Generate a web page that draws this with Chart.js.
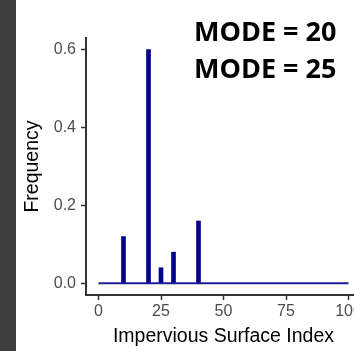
<!DOCTYPE html>
<html>
<head>
<meta charset="utf-8">
<script src="https://cdn.jsdelivr.net/npm/chart.js@4"></script>
<style>
  html, body { margin: 0; padding: 0; background: #fff; overflow: hidden; }
  #wrap { position: absolute; left: 0; top: 0; width: 361px; height: 351px; }
  #strip { position: absolute; left: 0; top: 0; width: 16px; height: 351px; background: #3f3f3f; }
  .mode { position: absolute; left: 194px; font-family: "Open Sans", sans-serif; font-weight: 700;
          font-size: 27px; line-height: 36px; color: #000; white-space: nowrap; }
</style>
</head>
<body>
<div id="wrap"><canvas id="chart" width="361" height="351"></canvas></div>
<div id="strip"></div>
<div class="mode" style="top:13px" id="mode1"></div>
<div class="mode" style="top:50px" id="mode2"></div>
<script>
  // values
  var imperviousIndex = [10, 20, 25, 30, 40];
  var frequency = [0.12, 0.6, 0.04, 0.08, 0.16];
  var baselineX = [0, 100];
  var baselineY = [0, 0];
  var xTicks = [0, 25, 50, 75, 100];
  var yTicks = [0, 0.2, 0.4, 0.6];
  var modeLabels = ["MODE = 20", "MODE = 25"];

  document.getElementById("mode1").textContent = modeLabels[0];
  document.getElementById("mode2").textContent = modeLabels[1];

  var axisColor = "#333";
  var tickFont = { family: "Liberation Sans, Arial, sans-serif", size: 16 };
  var titleFont = { family: "Liberation Sans, Arial, sans-serif", size: 19.5 };

  new Chart(document.getElementById("chart").getContext("2d"), {
    data: {
      datasets: [{
        type: "line",
        data: baselineX.map(function (x, i) { return { x: x, y: baselineY[i] }; }),
        borderColor: "#1c1c96",
        borderWidth: 2,
        pointRadius: 0,
        tension: 0
      }, {
        type: "bar",
        data: imperviousIndex.map(function (x, i) { return { x: x, y: frequency[i] }; }),
        backgroundColor: "#00008B",
        borderWidth: 0,
        barThickness: 4
      }]
    },
    options: {
      responsive: false,
      animation: false,
      layout: { padding: { top: 38, right: 0, bottom: 0, left: 0 } },
      plugins: { legend: { display: false }, tooltip: { enabled: false } },
      scales: {
        x: {
          type: "linear",
          offset: false,
          min: -5,
          max: 105,
          afterBuildTicks: function (s) { s.ticks = xTicks.map(function (v) { return { value: v }; }); },
          afterFit: function (s) { s.height = 56; s.paddingLeft = 0; s.paddingRight = 0; },
          grid: { offset: false, drawOnChartArea: false, tickLength: 5, tickWidth: 1.5, tickColor: axisColor },
          border: { color: axisColor, width: 2 },
          ticks: { color: "#4d4d4d", font: tickFont, padding: 2, autoSkip: false, maxRotation: 0 },
          title: {
            display: true,
            text: "Impervious Surface Index",
            color: "#000",
            font: titleFont,
            padding: { top: 0, bottom: 3 }
          }
        },
        y: {
          min: -0.03,
          max: 0.63,
          afterBuildTicks: function (s) { s.ticks = yTicks.map(function (v) { return { value: v }; }); },
          afterFit: function (s) { s.width = 86; s.paddingTop = 0; s.paddingBottom = 0; },
          grid: { drawOnChartArea: false, tickLength: 5, tickWidth: 1.5, tickColor: axisColor },
          border: { color: axisColor, width: 2 },
          ticks: {
            color: "#4d4d4d", font: tickFont, padding: 5,
            callback: function (v) { return v.toFixed(1); }
          },
          title: {
            display: true,
            text: "Frequency",
            color: "#000",
            font: titleFont,
            padding: { top: 21, bottom: 0 }
          }
        }
      }
    }
  });
</script>
</body>
</html>
